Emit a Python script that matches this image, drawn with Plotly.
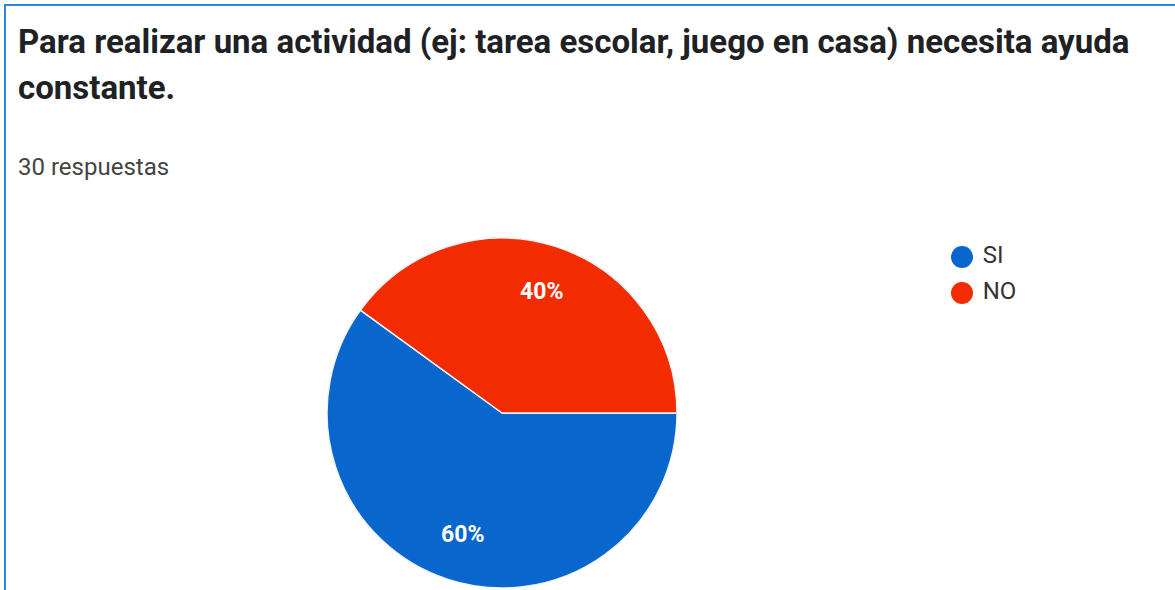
import math
import plotly.graph_objects as go

# Survey answers
categories = ["SI", "NO"]
counts = [18, 12]
colors = ["#0866CC", "#F22B00"]

title_line1 = "Para realizar una actividad (ej: tarea escolar, juego en casa) necesita ayuda"
title_line2 = "constante."
responses_text = f"{sum(counts)} respuestas"

W, H = 1175, 590
pie_x = [0.2766, 0.5779]
pie_y = [0.0034, 0.5966]
start_angle = 90  # first slice starts at 3 o'clock, running clockwise

fig = go.Figure()

fig.add_trace(go.Pie(
    labels=categories,
    values=counts,
    sort=False,
    direction="clockwise",
    rotation=start_angle,
    marker=dict(colors=colors, line=dict(color="#F4F4F4", width=1.5)),
    textinfo="none",
    hoverinfo="label+percent",
    showlegend=False,
    domain=dict(x=pie_x, y=pie_y),
))

# Percentage labels placed along each slice's bisector
total = sum(counts)
cx = (pie_x[0] + pie_x[1]) / 2 * W
cy = (pie_y[0] + pie_y[1]) / 2 * H
radius = min((pie_x[1] - pie_x[0]) * W, (pie_y[1] - pie_y[0]) * H) / 2
label_annotations = []
cum = 0
for cat, val in zip(categories, counts):
    mid = start_angle + 360 * (cum + val / 2) / total
    cum += val
    lx = cx + 0.73 * radius * math.sin(math.radians(mid))
    ly = cy + 0.73 * radius * math.cos(math.radians(mid))
    label_annotations.append(dict(
        text=f"<b>{round(100 * val / total)}%</b>", x=lx / W, y=ly / H,
        xref="paper", yref="paper", xanchor="center", yanchor="middle",
        showarrow=False, font=dict(family="Roboto", size=23, color="#FFFFFF"),
    ))

# Legend drawn as round markers with labels
fig.add_trace(go.Scatter(
    x=[0] * len(categories),
    y=categories,
    mode="markers+text",
    marker=dict(size=22, color=colors, line=dict(width=0)),
    text=[" " + c for c in categories],
    textposition="middle right",
    textfont=dict(family="Roboto", size=24, color="#333333"),
    hoverinfo="skip",
    showlegend=False,
    cliponaxis=False,
))

fig.update_layout(
    width=W,
    height=H,
    margin=dict(l=0, r=0, t=0, b=0),
    paper_bgcolor="#FFFFFF",
    plot_bgcolor="rgba(0,0,0,0)",
    font=dict(family="Roboto"),
    xaxis=dict(domain=[0.8, 1.0], range=[-0.5, 4.84], visible=False, fixedrange=True),
    yaxis=dict(domain=[0.4729, 0.5949], range=[1.5, -0.5], type="category",
               visible=False, fixedrange=True),
    annotations=[
        dict(text=f"<b>{title_line1}</b>", x=16 / W, y=1 - 42 / H,
             xref="paper", yref="paper", xanchor="left", yanchor="middle",
             showarrow=False, font=dict(family="Roboto", size=33, color="#202124")),
        dict(text=f"<b>{title_line2}</b>", x=16 / W, y=1 - 88 / H,
             xref="paper", yref="paper", xanchor="left", yanchor="middle",
             showarrow=False, font=dict(family="Roboto", size=33, color="#202124")),
        dict(text=responses_text, x=16 / W, y=1 - 167 / H,
             xref="paper", yref="paper", xanchor="left", yanchor="middle",
             showarrow=False, font=dict(family="Roboto", size=24, color="#444444")),
    ] + label_annotations,
    shapes=[
        dict(type="rect", xref="paper", yref="paper",
             x0=5 / W, x1=1.02, y0=-0.02, y1=1 - 5 / H,
             line=dict(color="#2E86D8", width=2), fillcolor="rgba(0,0,0,0)"),
    ],
)

fig.write_html("out.html")
